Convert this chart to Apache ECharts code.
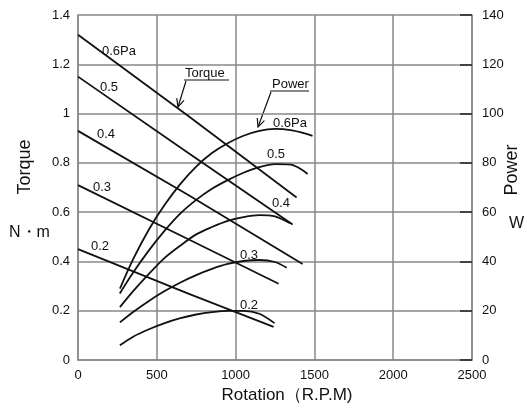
<!DOCTYPE html>
<html>
<head>
<meta charset="utf-8">
<script src="https://cdn.jsdelivr.net/npm/echarts@6/dist/echarts.min.js"></script>
<style>
  html, body { margin: 0; padding: 0; background: #fff; }
  #chart { width: 527px; height: 409px; }
</style>
</head>
<body>
<div id="chart"></div>
<script>
// curves for each pressure, top to bottom
const torqueLabels = ['0.6Pa', '0.5', '0.4', '0.3', '0.2'];
const powerLabels = ['0.6Pa', '0.5', '0.4', '0.3', '0.2'];

// Torque (N·m) - straight lines
const torqueRpm = [
  [0, 700, 1387],
  [0, 700, 1362],
  [0, 700, 1425],
  [0, 700, 1273],
  [0, 700, 1241]
];
const torqueValues = [
  [1.32, 0.99, 0.66],
  [1.15, 0.84, 0.55],
  [0.93, 0.67, 0.39],
  [0.71, 0.49, 0.31],
  [0.45, 0.27, 0.135]
];

// Power (W)
const powerRpm = [
  [266, 350, 450, 550, 650, 750, 850, 950, 1050, 1150, 1250, 1350, 1450, 1488],
  [265, 350, 450, 550, 650, 750, 850, 950, 1050, 1150, 1250, 1350, 1400, 1457],
  [266, 350, 450, 550, 650, 750, 850, 950, 1050, 1150, 1250, 1345],
  [266, 350, 450, 550, 650, 750, 850, 950, 1050, 1150, 1250, 1324],
  [266, 350, 450, 550, 650, 750, 850, 950, 1050, 1150, 1247]
];
const powerValues = [
  [29, 41, 53, 63, 71.5, 78.5, 84, 88, 91, 93, 93.8, 93.3, 91.8, 91],
  [27, 35.5, 44.5, 52.5, 59.5, 65, 69.5, 73, 76, 78.3, 79.5, 79.3, 78, 75.5],
  [21.5, 28, 35, 41.5, 46.5, 51, 54, 56.5, 58, 58.8, 58.3, 55.5],
  [15.3, 19.5, 24, 28, 31.5, 34.5, 37, 39, 40.2, 40.6, 39.8, 37.5],
  [6, 9.5, 12.5, 15, 17, 18.5, 19.5, 20, 20, 18.8, 15]
];

const FONT = '"Liberation Sans", Arial, sans-serif';
const GRID_COLOR = '#888';
const INK = '#111';

const chart = echarts.init(document.getElementById('chart'), null, { renderer: 'canvas' });

const series = [];
torqueValues.forEach((vals, i) => {
  series.push({
    type: 'line',
    yAxisIndex: 0,
    showSymbol: false,
    data: vals.map((v, j) => [torqueRpm[i][j], v]),
    lineStyle: { color: INK, width: 1.8 },
    silent: true
  });
});
powerValues.forEach((vals, i) => {
  series.push({
    type: 'line',
    yAxisIndex: 1,
    showSymbol: false,
    smooth: 0.3,
    data: vals.map((v, j) => [powerRpm[i][j], v]),
    lineStyle: { color: INK, width: 1.8 },
    silent: true
  });
});

// text labels placed on the picture
const torqueLabelPos = [[102, 51], [100, 87], [97, 134], [93, 187], [91, 246]];
const powerLabelPos = [[273, 123], [267, 154], [272, 203], [240, 255], [240, 305]];

function txt(x, y, text, size, extra) {
  return Object.assign({
    type: 'text', x: x, y: y, silent: true,
    style: { text: text, font: size + 'px ' + FONT, fill: INK, textVerticalAlign: 'middle' }
  }, extra || {});
}

function vtxt(x, y, text, size) {
  return {
    type: 'text', x: x, y: y, rotation: Math.PI / 2, silent: true,
    style: { text: text, font: size + 'px ' + FONT, fill: INK, textAlign: 'center', textVerticalAlign: 'middle' }
  };
}

function arrow(from, to) {
  const dx = to[0] - from[0], dy = to[1] - from[1];
  const len = Math.sqrt(dx * dx + dy * dy);
  const bx = -dx / len, by = -dy / len;
  const a = 25 * Math.PI / 180, L = 9;
  const p1 = [to[0] + L * (bx * Math.cos(a) - by * Math.sin(a)), to[1] + L * (bx * Math.sin(a) + by * Math.cos(a))];
  const p2 = [to[0] + L * (bx * Math.cos(a) + by * Math.sin(a)), to[1] + L * (-bx * Math.sin(a) + by * Math.cos(a))];
  return [
    { type: 'polyline', silent: true, shape: { points: [from, to] }, style: { stroke: INK, lineWidth: 1.2, fill: null } },
    { type: 'polyline', silent: true, shape: { points: [p1, to, p2] }, style: { stroke: INK, lineWidth: 1.2, fill: null } }
  ];
}

const graphics = [];
torqueLabels.forEach((t, i) => graphics.push(txt(torqueLabelPos[i][0], torqueLabelPos[i][1], t, 13)));
powerLabels.forEach((t, i) => graphics.push(txt(powerLabelPos[i][0], powerLabelPos[i][1], t, 13)));

graphics.push(txt(185, 73, 'Torque', 13));
graphics.push({ type: 'line', silent: true, shape: { x1: 184, y1: 80, x2: 229, y2: 80 }, style: { stroke: INK, lineWidth: 1.2 } });
graphics.push(...arrow([186, 81], [178, 107]));

graphics.push(txt(272, 84, 'Power', 13));
graphics.push({ type: 'line', silent: true, shape: { x1: 270, y1: 91, x2: 309, y2: 91 }, style: { stroke: INK, lineWidth: 1.2 } });
graphics.push(...arrow([271, 92], [258, 127]));

// axis names
graphics.push(vtxt(25, 167, 'Torque', 18));
graphics.push(txt(9, 233, 'N・m', 16));
graphics.push(vtxt(512, 170, 'Power', 18));
graphics.push(txt(509, 224, 'W', 16));

const option = {
  backgroundColor: '#fff',
  animation: false,
  grid: { left: 78, right: 55, top: 15, bottom: 47, containLabel: false },
  xAxis: {
    type: 'value',
    min: 0, max: 2500, interval: 500,
    name: 'Rotation（R.P.M)',
    nameLocation: 'middle',
    nameGap: 25,
    nameTextStyle: { fontFamily: FONT, fontSize: 17, color: INK, padding: [0, 0, 0, 24] },
    axisLine: { show: true, lineStyle: { color: GRID_COLOR, width: 1.5 } },
    axisTick: { show: false },
    axisLabel: { fontFamily: FONT, fontSize: 13, color: INK, margin: 9, formatter: v => String(v) },
    splitLine: { show: true, lineStyle: { color: GRID_COLOR, width: 1.5 } }
  },
  yAxis: [
    {
      type: 'value',
      min: 0, max: 1.4, interval: 0.2,
      axisLine: { show: true, lineStyle: { color: GRID_COLOR, width: 1.5 } },
      axisTick: { show: false },
      axisLabel: { fontFamily: FONT, fontSize: 13, color: INK, margin: 8 },
      splitLine: { show: true, lineStyle: { color: GRID_COLOR, width: 1.5 } }
    },
    {
      type: 'value',
      position: 'right',
      min: 0, max: 140, interval: 20,
      axisLine: { show: true, lineStyle: { color: GRID_COLOR, width: 1.5 } },
      axisTick: { show: true, inside: true, length: 12, lineStyle: { color: '#222', width: 1.5 } },
      axisLabel: { fontFamily: FONT, fontSize: 13, color: INK, margin: 10 },
      splitLine: { show: false }
    }
  ],
  series: series,
  graphic: graphics
};

chart.setOption(option);
</script>
</body>
</html>
